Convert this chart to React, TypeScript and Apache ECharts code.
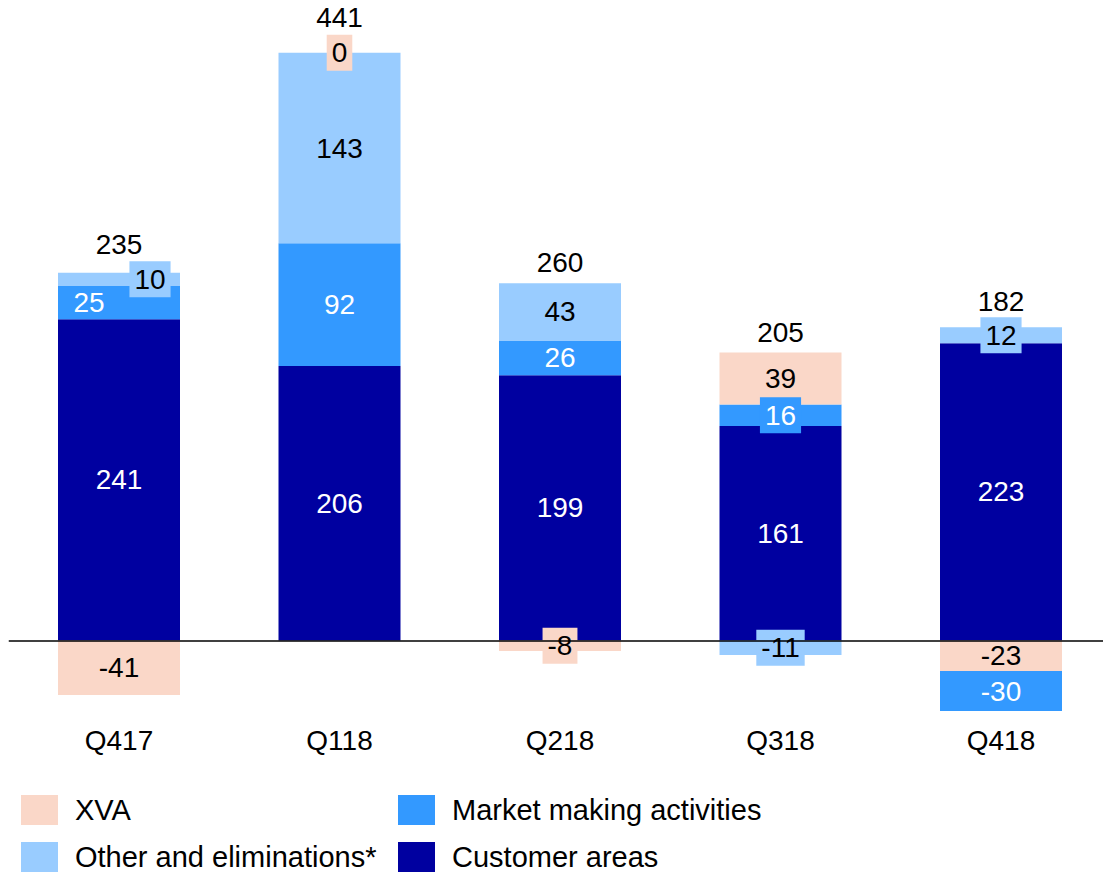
import React, { useEffect, useRef } from "react";
import * as echarts from "echarts";

const categories = ["Q417", "Q118", "Q218", "Q318", "Q418"];
const customerAreas = [241, 206, 199, 161, 223];
const marketMaking = [25, 92, 26, 16, -30];
const otherElim = [10, 143, 43, -11, 12];
const xva = [-41, 0, -8, 39, -23];
const totals = [235, 441, 260, 205, 182];

const FONT = "'Liberation Sans', Arial, Helvetica, sans-serif";
const totalLabelGap = [14, 21, 7, 6, 12];
const labelOffsets: Record<string, number[]> = {
  "Q417|Other and eliminations*": [31, 0],
  "Q417|Market making activities": [-30, 0],
};

const defs = {
  customer: { name: "Customer areas", values: customerAreas, color: "#0000A0", text: "#ffffff" },
  market: { name: "Market making activities", values: marketMaking, color: "#3399FF", text: "#ffffff" },
  other: { name: "Other and eliminations*", values: otherElim, color: "#99CCFF", text: "#000000" },
  xva: { name: "XVA", values: xva, color: "#FAD7C8", text: "#000000" },
};

function makeSeries(def: any, positive: boolean, extra: any = {}) {
  const data = def.values.map((v: number, i: number) => {
    const use = positive ? v >= 0 : v < 0;
    if (!use) return "-";
    const small = Math.abs(v) < 20;
    const key = categories[i] + "|" + def.name;
    return {
      value: v,
      label: {
        backgroundColor: small ? def.color : "transparent",
        offset: labelOffsets[key] || [0, 0],
      },
    };
  });
  return {
    type: "bar",
    name: def.name,
    stack: "total",
    barWidth: 122,
    data,
    itemStyle: { color: def.color },
    emphasis: { disabled: true },
    label: {
      show: true,
      position: "inside",
      fontSize: 28,
      lineHeight: 30,
      padding: [3, 5],
      fontFamily: FONT,
      color: def.text,
    },
    ...extra,
  };
}

export default function App() {
  const ref = useRef<HTMLDivElement>(null);
  useEffect(() => {
    if (!ref.current) return;
    const chart = echarts.init(ref.current, undefined, { renderer: "svg" });
    const posTops = categories.map((_, i) =>
      [customerAreas, marketMaking, otherElim, xva].reduce((s, arr) => s + (arr[i] > 0 ? arr[i] : 0), 0)
    );
    const legendText = {
      fontSize: 29,
      fontFamily: FONT,
      color: "#000",
      padding: [0, 0, 0, 12],
    };
    chart.setOption({
      animation: false,
      grid: { left: 8.75, width: 1102.5, top: 14.1, height: 706.3, outerBoundsMode: "none", containLabel: false },
      xAxis: {
        type: "category",
        data: categories,
        axisLine: { show: false },
        axisTick: { show: false },
        axisLabel: { fontSize: 28, fontFamily: FONT, color: "#000", margin: 6, lineHeight: 28 },
      },
      yAxis: {
        type: "value",
        min: -60,
        max: 470,
        show: false,
        splitLine: { show: false },
      },
      legend: [
        {
          left: 21,
          top: 795,
          orient: "vertical",
          icon: "rect",
          itemWidth: 37,
          itemHeight: 30,
          itemGap: 17,
          padding: 0,
          selectedMode: false,
          data: ["XVA", "Other and eliminations*"],
          textStyle: legendText,
        },
        {
          left: 398,
          top: 795,
          orient: "vertical",
          icon: "rect",
          itemWidth: 37,
          itemHeight: 30,
          itemGap: 17,
          padding: 0,
          selectedMode: false,
          data: ["Market making activities", "Customer areas"],
          textStyle: legendText,
        },
      ],
      series: [
        makeSeries(defs.customer, true, {
          markLine: {
            silent: true,
            symbol: ["none", "none"],
            label: { show: false },
            lineStyle: { color: "#000", width: 1.5, type: "solid" },
            data: [{ yAxis: 0 }],
          },
        }),
        makeSeries(defs.market, true),
        makeSeries(defs.other, true),
        makeSeries(defs.xva, true),
        makeSeries(defs.xva, false),
        makeSeries(defs.other, false),
        makeSeries(defs.market, false),
        makeSeries(defs.customer, false),
        {
          type: "scatter",
          name: "totals",
          symbolSize: 0,
          silent: true,
          itemStyle: { opacity: 1 },
          data: posTops.map((t, i) => ({
            value: t,
            label: { distance: totalLabelGap[i] },
          })),
          label: {
            show: true,
            position: "top",
            fontSize: 28,
            lineHeight: 28,
            fontFamily: FONT,
            color: "#000000",
            opacity: 1,
            formatter: (p: any) => String(totals[p.dataIndex]),
          },
        },
      ],
    });
    return () => chart.dispose();
  }, []);
  return (
    <div
      ref={ref}
      style={{ position: "absolute", left: 0, top: 0, width: 1103, height: 873 }}
    />
  );
}
